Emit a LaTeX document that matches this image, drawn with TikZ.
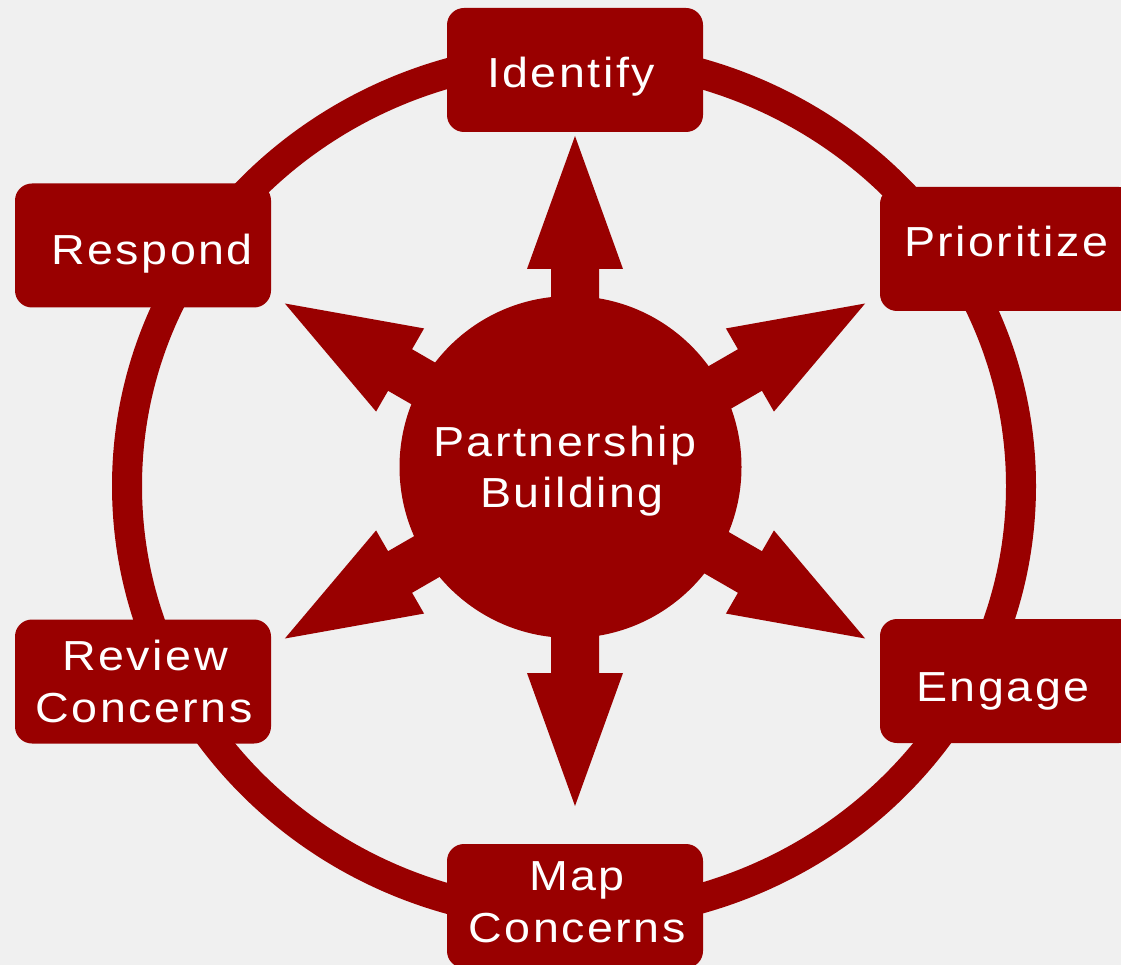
\documentclass[tikz,border=0pt]{standalone}
\usepackage{fontspec}
\newfontfamily\labfont[LetterSpace=6,FakeStretch=1.11]{Liberation Sans}
\definecolor{cyclered}{HTML}{990000}
\definecolor{bgpaper}{HTML}{F0F0F0}
\tikzset{
  stagebox/.style={shape=rectangle, fill=cyclered, rounded corners=17pt,
    minimum width=256pt, minimum height=124pt, inner sep=0pt},
  hubdisc/.style={shape=circle, fill=cyclered, minimum size=342pt, inner sep=0pt},
  boxlabel/.style={anchor=base, inner sep=0pt, text=white,
    font=\labfont\fontsize{42}{51}\selectfont},
  ringline/.style={draw=cyclered, line width=30pt},
  spoke/.style={fill=cyclered},
}
\begin{document}
\begin{tikzpicture}[x=1pt, y=-1pt]
\useasboundingbox (0,0) rectangle (1121,965);
\fill[bgpaper] (0,0) rectangle (1121,965);

% ring
\coordinate (ringc) at (574,486);
\draw[ringline] (ringc) ellipse [x radius=447pt, y radius=430pt];

% arrows from the hub
\coordinate (hubc) at (575,471);
\foreach \ang in {90,30,-30,-90,-150,150}{
  \fill[spoke, shift={(hubc)}, rotate=\ang]
    (0,-24) -- (202,-24) -- (202,-48) -- (335,0) -- (202,48) -- (202,24) -- (0,24) -- cycle;
}

% hub
\node[hubdisc] (hub) at (570.5,467) {};
\node[boxlabel] (hubA) at (565,456) {Partnership};
\node[boxlabel] (hubB) at (572,507) {Building};

% stage boxes
\node[stagebox] (identify) at (575,70) {};
\node[stagebox] (prioritize) at (1008,249) {};
\node[stagebox] (engage) at (1008,681) {};
\node[stagebox] (map) at (575,906) {};
\node[stagebox] (review) at (143,681.5) {};
\node[stagebox] (respond) at (143,245.5) {};

% labels
\node[boxlabel] (identifyT) at (571,88) {Identify};
\node[boxlabel] (prioritizeT) at (1006,257) {Prioritize};
\node[boxlabel] (engageT) at (1003,701) {Engage};
\node[boxlabel] (mapA) at (577,890) {Map};
\node[boxlabel] (mapB) at (577,942) {Concerns};
\node[boxlabel] (reviewA) at (145,670) {Review};
\node[boxlabel] (reviewB) at (144,722) {Concerns};
\node[boxlabel] (respondT) at (152,265) {Respond};
\end{tikzpicture}
\end{document}
